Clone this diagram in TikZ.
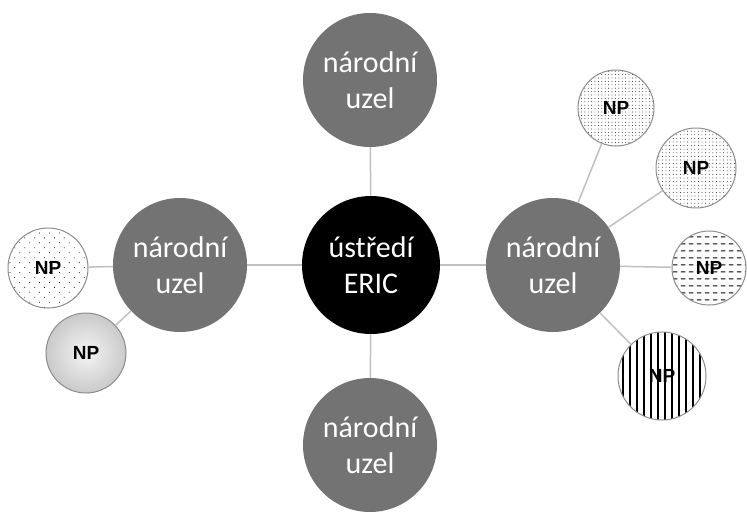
\documentclass[tikz,border=0pt]{standalone}
\usepackage{fontspec}
\setmainfont{Carlito}
\newfontfamily\npfont{Liberation Sans}
\usetikzlibrary{patterns.meta}
\definecolor{uzelgray}{RGB}{115,115,115}
\definecolor{linkgray}{RGB}{192,192,192}
\definecolor{rimgray}{RGB}{140,140,140}

\tikzdeclarepattern{
  name=dashrows,
  type=uncolored,
  bottom left={(0pt,0pt)},
  top right={(8pt,7pt)},
  tile size={(8pt,7pt)},
  code={
    \draw[line width=1.3pt] (1pt,3.5pt) -- (6pt,3.5pt);
  }
}

\begin{document}
\begin{tikzpicture}[x=1pt,y=-1pt,
  uzel/.style={circle,fill=uzelgray,text=white,minimum size=134pt,inner sep=0pt,
    align=center,font=\fontsize{30}{36}\selectfont},
  centr/.style={uzel,fill=black,minimum size=138pt},
  np/.style={circle,draw=rimgray,line width=1pt,inner sep=0pt,
    font=\npfont\bfseries\fontsize{19}{22}\selectfont},
  link/.style={draw=linkgray,line width=1.5pt}]
\useasboundingbox (0,0) rectangle (747,520);
% centre and national nodes
\node[centr] (eric) at (371,265) {ústředí\\ERIC};
\node[uzel] (top) at (370,80) {národní\\uzel};
\node[uzel] (bottom) at (370,445) {národní\\uzel};
\node[uzel] (left) at (180,265) {národní\\uzel};
\node[uzel] (right) at (553,265) {národní\\uzel};
% national partners, right
\node[np,minimum size=76pt,pattern={Dots[radius=0.45pt,distance=3.4pt]}] (np1) at (616,108) {NP};
\node[np,minimum size=80pt,pattern={Dots[radius=0.45pt,distance=3.6pt]}] (np2) at (696,168) {NP};
\node[np,minimum size=74pt,pattern=dashrows] (np3) at (709,268) {NP};
\node[np,minimum size=88pt,pattern={Lines[angle=90,distance=7pt,line width=1.8pt]}] (np4) at (662,376) {NP};
% national partners, left
\node[np,minimum size=80pt,pattern={Dots[radius=0.55pt,distance=7pt,angle=45]}] (np5) at (48,268) {NP};
\node[np,minimum size=80pt,inner color=gray!8,outer color=gray!42] (np6) at (86,353) {NP};
% connectors
\draw[link] (eric) -- (top);
\draw[link] (eric) -- (bottom);
\draw[link] (eric) -- (left);
\draw[link] (eric) -- (right);
\draw[link] (right) -- (np1);
\draw[link] (right) -- (np2);
\draw[link] (right) -- (np3);
\draw[link] (right) -- (np4);
\draw[link] (left) -- (np5);
\draw[link] (left) -- (np6);
\end{tikzpicture}
\end{document}
